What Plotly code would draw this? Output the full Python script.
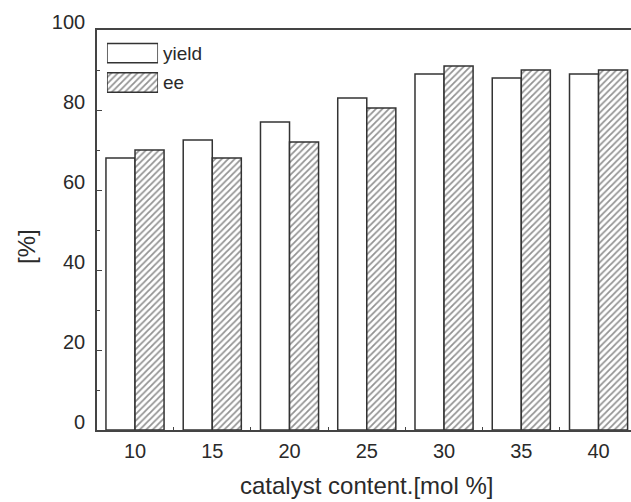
import plotly.graph_objects as go

# Catalyst loading (mol %) and measured results (%)
catalyst_content = [10, 15, 20, 25, 30, 35, 40]
yield_pct = [68, 72.5, 77, 83, 89, 88, 89]
ee_pct = [70, 68, 72, 80.5, 91, 90, 90]
legend_labels = ["yield", "ee"]
y_ticks = [0, 20, 40, 60, 80, 100]

FONT = "Arial"
INK = "#2a2a2a"
EDGE = "#333333"
BAR_W = 1.88  # width of each bar in x-axis units (categories are 5 apart)

hatch = dict(shape="/", fgcolor="#262626", bgcolor="white", size=4.6, solidity=0.38)

fig = go.Figure()

fig.add_trace(go.Bar(
    x=catalyst_content, y=yield_pct, name="yield",
    width=BAR_W, offset=-BAR_W,
    marker=dict(color="white", line=dict(color=EDGE, width=1.5)),
    showlegend=False,
))
fig.add_trace(go.Bar(
    x=catalyst_content, y=ee_pct, name="ee",
    width=BAR_W, offset=0,
    marker=dict(color="white", pattern=hatch, line=dict(color=EDGE, width=1.5)),
    showlegend=False,
))

# Key drawn as two swatch bars on a small inset axis, labelled by its ticks
fig.add_trace(go.Bar(
    x=[1], y=[legend_labels[0]], orientation="h", width=0.66,
    xaxis="x2", yaxis="y2", hoverinfo="skip", showlegend=False,
    marker=dict(color="white", line=dict(color=EDGE, width=1.5)),
))
fig.add_trace(go.Bar(
    x=[1], y=[legend_labels[1]], orientation="h", width=0.66,
    xaxis="x2", yaxis="y2", hoverinfo="skip", showlegend=False,
    marker=dict(color="white", pattern=hatch, line=dict(color=EDGE, width=1.5)),
))

fig.update_layout(
    width=631, height=502,
    margin=dict(l=97, r=0, t=30, b=72),
    paper_bgcolor="white", plot_bgcolor="white",
    barmode="overlay",
    font=dict(family=FONT, color=INK),
    xaxis=dict(
        range=[7.54, 42.1],
        tickmode="array", tickvals=catalyst_content,
        ticks="", showgrid=False, zeroline=False,
        showline=True, linecolor="#444", linewidth=1.6, mirror=True,
        tickfont=dict(size=20, family=FONT, color=INK),
        ticklabelstandoff=2,
        minor=dict(tick0=12.5, dtick=5, ticks="inside", ticklen=3,
                   tickcolor="#444", tickwidth=1.2, showgrid=False),
    ),
    yaxis=dict(
        range=[0, 100],
        tickmode="array", tickvals=y_ticks,
        ticks="inside", ticklen=5, tickcolor="#444", tickwidth=1.2,
        showgrid=False, zeroline=False,
        showline=True, linecolor="#444", linewidth=1.6,
        tickfont=dict(size=20, family=FONT, color=INK),
        ticklabelstandoff=6, ticklabelshift=-8,
        minor=dict(dtick=10, ticks="inside", ticklen=3,
                   tickcolor="#444", tickwidth=1.2, showgrid=False),
    ),
    xaxis2=dict(domain=[0.0187, 0.1143], anchor="y2", range=[0, 1],
                visible=False, fixedrange=True),
    yaxis2=dict(domain=[0.832, 0.979], anchor="x2", side="right",
                type="category", autorange="reversed",
                showline=False, showgrid=False, zeroline=False, ticks="",
                tickfont=dict(size=19, family=FONT, color=INK),
                ticklabelstandoff=4, fixedrange=True),
    annotations=[
        dict(text="catalyst content.[mol %]", xref="paper", yref="paper",
             x=0.5056, y=-0.1375, xanchor="center", yanchor="middle",
             showarrow=False, font=dict(size=24, family=FONT, color=INK)),
        dict(text="[%]", xref="paper", yref="paper",
             x=-0.133, y=0.46, xanchor="center", yanchor="middle",
             textangle=-90, showarrow=False,
             font=dict(size=24, family=FONT, color=INK)),
    ],
)

fig.write_html("out.html")
